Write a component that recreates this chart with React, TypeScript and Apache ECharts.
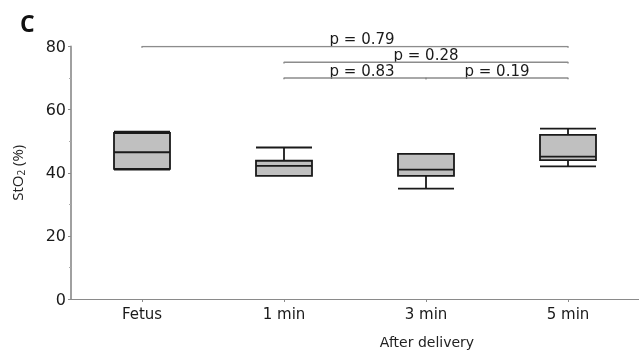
import { useEffect, useRef } from 'react';
import * as echarts from 'echarts';

const categories = ['Fetus', '1 min', '3 min', '5 min'];
const boxMin = [41, 39, 35, 42];
const boxQ1 = [41.2, 39, 39, 44];
const boxMedian = [46.5, 42.2, 41, 45.1];
const boxQ3 = [52.6, 43.8, 46, 52];
const boxMax = [53, 48, 46, 54];

const compFrom = [0, 1, 1, 2];
const compTo = [3, 3, 2, 3];
const compY = [80, 75, 70, 70];
const compP = ['p = 0.79', 'p = 0.28', 'p = 0.83', 'p = 0.19'];
const compLabelX = [1.55, 2, 1.55, 2.5];

export default function App() {
  const ref = useRef<HTMLDivElement>(null);
  useEffect(() => {
    if (!ref.current) return;
    const chart = echarts.init(ref.current, null, { renderer: 'svg' });
    const boxData = categories.map((_, i) => [boxMin[i], boxQ1[i], boxMedian[i], boxQ3[i], boxMax[i]]);
    const bracketSeries = compFrom.map((f, i) => ({
      type: 'line',
      xAxisIndex: 1,
      yAxisIndex: 0,
      symbol: 'none',
      silent: true,
      lineStyle: { color: '#8c8c8c', width: 1.5 },
      data: [
        [f, compY[i] - 0.4],
        [f, compY[i]],
        [compTo[i], compY[i]],
        [compTo[i], compY[i] - 0.4],
      ],
    }));
    const labelSeries = {
      type: 'scatter',
      xAxisIndex: 1,
      yAxisIndex: 0,
      symbolSize: 0,
      silent: true,
      itemStyle: { opacity: 1 },
      data: compP.map((p, i) => ({ value: [compLabelX[i], compY[i]], name: p })),
      label: {
        show: true,
        position: 'top',
        distance: 0,
        formatter: (p: any) => p.name,
        color: '#1a1a1a',
        opacity: 1,
        fontSize: 15,
        fontFamily: 'DejaVu Sans',
      },
    };
    chart.setOption({
      animation: false,
      grid: { left: 71, right: 0, top: 46.5, bottom: 52, containLabel: false },
      xAxis: [
        {
          type: 'category',
          data: categories,
          axisLine: { lineStyle: { color: '#8a8a8a', width: 1 } },
          axisTick: { show: true, alignWithLabel: true, length: 3, lineStyle: { color: '#8a8a8a' } },
          axisLabel: { color: '#1a1a1a', fontSize: 15, fontFamily: 'DejaVu Sans', margin: 7 },
          splitLine: { show: false },
        },
        { type: 'value', min: -0.5, max: 3.5, show: false },
      ],
      yAxis: {
        type: 'value',
        min: 0,
        max: 80,
        interval: 20,
        name: '{a|StO}{b|2}{a| (%)}',
        nameLocation: 'middle',
        nameRotate: 90,
        nameGap: 45,
        nameTextStyle: {
          rich: {
            a: { fontSize: 15, fontFamily: 'Open Sans', color: '#222' },
            b: { fontSize: 10, fontFamily: 'Open Sans', color: '#222', padding: [8, 0, 0, 0] },
          },
        },
        axisLine: { show: true, onZero: false, lineStyle: { color: '#a0a0a0', width: 2 } },
        axisTick: { show: true, length: 3, lineStyle: { color: '#8a8a8a' } },
        minorTick: { show: true, splitNumber: 2, length: 2, lineStyle: { color: '#aaa' } },
        axisLabel: { color: '#1a1a1a', fontSize: 16, fontFamily: 'DejaVu Sans', margin: 5 },
        splitLine: { show: false },
      },
      graphic: [
        {
          type: 'text',
          left: 20,
          top: 11,
          style: { text: 'C', fontSize: 23, fontWeight: 'bold', fontFamily: 'Open Sans', fill: '#111' },
        },
        {
          type: 'text',
          x: 427,
          y: 342,
          style: {
            text: 'After delivery',
            fontSize: 14,
            fontFamily: 'DejaVu Sans',
            fill: '#222',
            textAlign: 'center',
            textVerticalAlign: 'middle',
          },
        },
      ],
      series: [
        {
          type: 'boxplot',
          data: boxData,
          boxWidth: [56, 56],
          itemStyle: { color: '#c0c0c0', borderColor: '#1a1a1a', borderWidth: 1.8 },
          silent: true,
        },
        ...bracketSeries,
        labelSeries,
      ],
    });
    return () => chart.dispose();
  }, []);
  return <div ref={ref} style={{ position: 'fixed', left: 0, top: 0, width: 639, height: 351 }} />;
}
